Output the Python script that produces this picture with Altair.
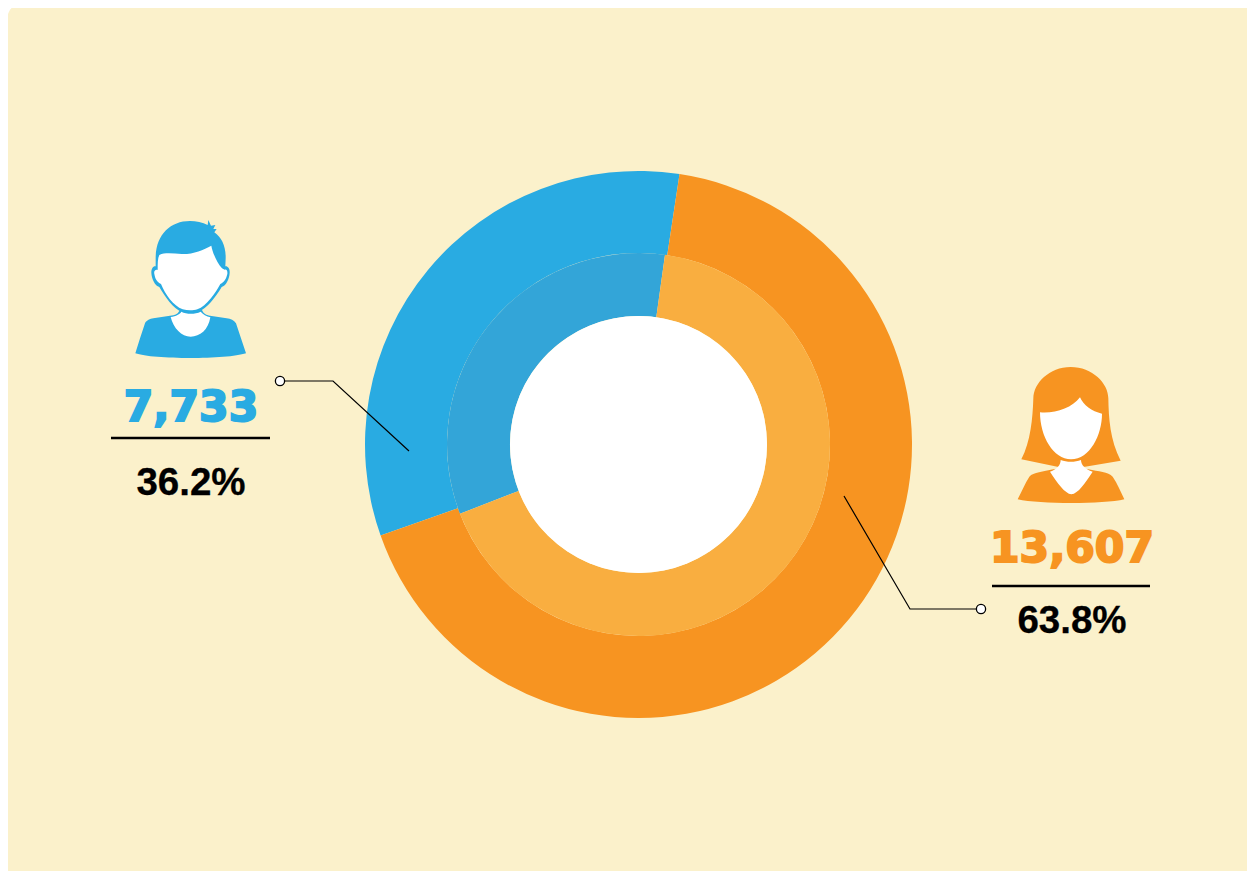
import math
import altair as alt
import pandas as pd

BLUE, ORANGE, BLUE_IN, ORANGE_IN = "#29ABE2", "#F79421", "#33A5D8", "#F9AE40"
BG = "#FBF1CB"
CX, CY = 638.5, 444.5

outer_shares = [32.8, 67.2]
inner_shares = [33.1, 66.9]
outer_colors = [BLUE, ORANGE]
inner_colors = [BLUE_IN, ORANGE_IN]
outer_start_deg = 250.55
inner_start_deg = 248.8

counts = ["7,733", "13,607"]
pcts = ["36.2%", "63.8%"]
text_x = [191, 1072]
count_y = [421, 562]
pct_y = [495, 633]
rule_x1 = [111, 992]
rule_x2 = [270, 1150]
rule_y = [438, 586]

leader_x = [280, 333, 409, 844, 910, 981]
leader_y = [381, 381, 451, 496, 609, 609]
leader_id = ["a", "a", "a", "b", "b", "b"]
dot_x = [280, 981]
dot_y = [381, 609]

XS = alt.Scale(domain=[8, 1247], range=[0, 1239], nice=False, zero=False)
YS = alt.Scale(domain=[8, 871], range=[0, 863], nice=False, zero=False)
X = alt.X("x:Q", scale=XS, axis=None)
Y = alt.Y("y:Q", scale=YS, axis=None)


def icon_path(path, cx, cy):
    """Rescale an outline drawn on a 3x grid to Vega's unit symbol space (100 px = 2 units)."""
    out, is_x = [], True
    for tok in path.replace(",", " ").split():
        if tok.isalpha():
            out.append(tok)
            is_x = True
        else:
            v = (float(tok) - (cx if is_x else cy)) / 150
            out.append(f"{v:.4f}")
            is_x = not is_x
    return " ".join(out)


MAN_C = (240, 255)
MAN_BLUE = [
    "M 137 160 C 137 90 180 48 240 48 C 258 48 278 52 293 60 L 295 45 L 303 62 L 316 60 L 310 72 L 320 72 L 313 82 "
    "C 335 97 348 125 347 160 L 346 184 C 352 182 360 190 359 203 C 358 222 348 242 335 246 C 318 275 290 312 265 320 "
    "C 250 324 232 324 215 320 C 190 312 165 275 148 246 C 135 242 125 222 124 203 C 124 190 130 182 137 184 Z",
    "M 76 445 C 85 415 95 385 105 355 C 110 345 120 342 130 340 L 190 331 C 200 329 208 322 210 312 L 275 312 "
    "C 280 328 290 330 300 332 L 350 340 C 362 342 372 345 378 355 C 388 385 398 415 408 445 C 350 464 130 464 76 445 Z",
]
MAN_WHITE = [
    "M 148 150 C 165 142 190 146 215 147 C 250 148 280 135 304 122 C 308 145 322 175 336 190 L 344 194 "
    "C 351 192 353 200 352 207 C 349 220 343 232 331 237 C 318 262 290 303 262 313 C 250 317 232 317 218 313 "
    "C 190 303 165 267 153 237 C 141 232 135 220 133 207 C 131 200 135 192 143 195 C 143 175 143 160 148 150 Z",
    "M 182 336 C 190 370 215 395 242 395 C 270 395 295 375 301 337 C 290 335 278 327 272 320 "
    "C 255 328 230 328 214 320 C 210 328 198 333 182 336 Z",
]
WOMAN_C = (303, 240)
WOMAN_ORANGE = [
    "M 190 130 C 190 85 238 36 302 36 C 367 36 415 85 415 130 C 416 190 420 255 452 317 L 345 335 L 262 335 L 154 313 "
    "C 182 260 188 190 190 130 Z",
    "M 143 433 C 155 410 165 385 178 365 C 190 352 220 350 250 343 L 355 343 C 385 350 415 350 428 365 "
    "C 442 385 452 410 463 433 C 400 448 210 448 143 433 Z",
]
WOMAN_WHITE = [
    "M 210 172 C 255 176 305 160 330 127 C 340 150 365 170 396 176 C 396 240 360 312 303 313 C 250 313 210 245 210 172 Z",
    "M 272 315 C 272 330 262 343 240 350 C 262 385 285 415 304 418 C 325 415 345 385 368 350 C 345 343 333 330 333 315 "
    "C 315 322 290 322 272 315 Z",
]


def icon_layer(paths, center, color, px, py):
    df = pd.DataFrame({"x": [px], "y": [py]})
    return [
        alt.Chart(df)
        .mark_point(shape=icon_path(p, *center), size=10000, filled=True, fill=color, stroke=None, opacity=1)
        .encode(x=X, y=Y)
        for p in paths
    ]


def ring(shares, colors, start_deg, outer, inner):
    df = pd.DataFrame({"x": CX, "y": CY, "share": shares, "color": colors, "k": [0, 1]})
    s = math.radians(start_deg)
    return (
        alt.Chart(df)
        .mark_arc(radius=outer, radius2=inner, stroke=None)
        .encode(
            x=X,
            y=Y,
            theta=alt.Theta("share:Q", stack=True, scale=alt.Scale(range=[s, s + 2 * math.pi])),
            color=alt.Color("color:N", scale=None),
            order=alt.Order("k:Q"),
        )
    )


background = (
    alt.Chart(pd.DataFrame({"x": [7], "x2": [1255], "y": [2], "y2": [890]}))
    .mark_rect(fill=BG, cornerRadius=18)
    .encode(x=X, x2="x2:Q", y=Y, y2="y2:Q")
)

hole = (
    alt.Chart(pd.DataFrame({"x": [CX], "y": [CY]}))
    .mark_arc(radius=128.5, radius2=0, theta=0, theta2=2 * math.pi, fill="white", stroke=None)
    .encode(x=X, y=Y)
)

text_df = pd.DataFrame({"x": text_x, "yc": count_y, "yp": pct_y, "count": counts, "pct": pcts, "color": [BLUE, ORANGE]})
count_text = (
    alt.Chart(text_df)
    .mark_text(font="DejaVu Sans", fontWeight="bold", fontSize=42.5, baseline="alphabetic", align="center", strokeWidth=2)
    .encode(
        x=X,
        y=alt.Y("yc:Q", scale=YS, axis=None),
        text="count:N",
        color=alt.Color("color:N", scale=None),
        stroke=alt.Color("color:N", scale=None),
    )
)
pct_text = (
    alt.Chart(text_df)
    .mark_text(font="Liberation Sans", fontWeight="bold", fontSize=38.5, baseline="alphabetic", align="center", color="black",
               stroke="black", strokeWidth=0.3)
    .encode(x=X, y=alt.Y("yp:Q", scale=YS, axis=None), text="pct:N")
)

rules = (
    alt.Chart(pd.DataFrame({"x": rule_x1, "x2": rule_x2, "y": rule_y}))
    .mark_rule(color="black", strokeWidth=2.4)
    .encode(x=X, x2="x2:Q", y=Y)
)
leaders = (
    alt.Chart(pd.DataFrame({"x": leader_x, "y": leader_y, "id": leader_id, "k": range(6)}))
    .mark_line(color="black", strokeWidth=1.2)
    .encode(x=X, y=Y, detail="id:N", order="k:Q")
)
dots = (
    alt.Chart(pd.DataFrame({"x": dot_x, "y": dot_y}))
    .mark_point(shape="circle", size=85, filled=True, fill="white", stroke="black", strokeWidth=1.3, opacity=1)
    .encode(x=X, y=Y)
)

layers = [
    background,
    ring(outer_shares, outer_colors, outer_start_deg, 273.5, 191.5),
    ring(inner_shares, inner_colors, inner_start_deg, 191.5, 128.5),
    hole,
]
layers += icon_layer(MAN_BLUE, MAN_C, BLUE, 190, 290) + icon_layer(MAN_WHITE, MAN_C, "white", 190, 290)
layers += icon_layer(WOMAN_ORANGE, WOMAN_C, ORANGE, 1071, 435) + icon_layer(WOMAN_WHITE, WOMAN_C, "white", 1071, 435)
layers += [count_text, pct_text, rules, leaders, dots]

chart = (
    alt.layer(*layers)
    .resolve_scale(theta="independent")
    .properties(width=1239, height=863, padding=0, autosize=alt.AutoSizeParams(type="none"))
    .configure_view(stroke=None)
)
chart.save("out.html", embed_options={"renderer": "svg", "actions": False})
